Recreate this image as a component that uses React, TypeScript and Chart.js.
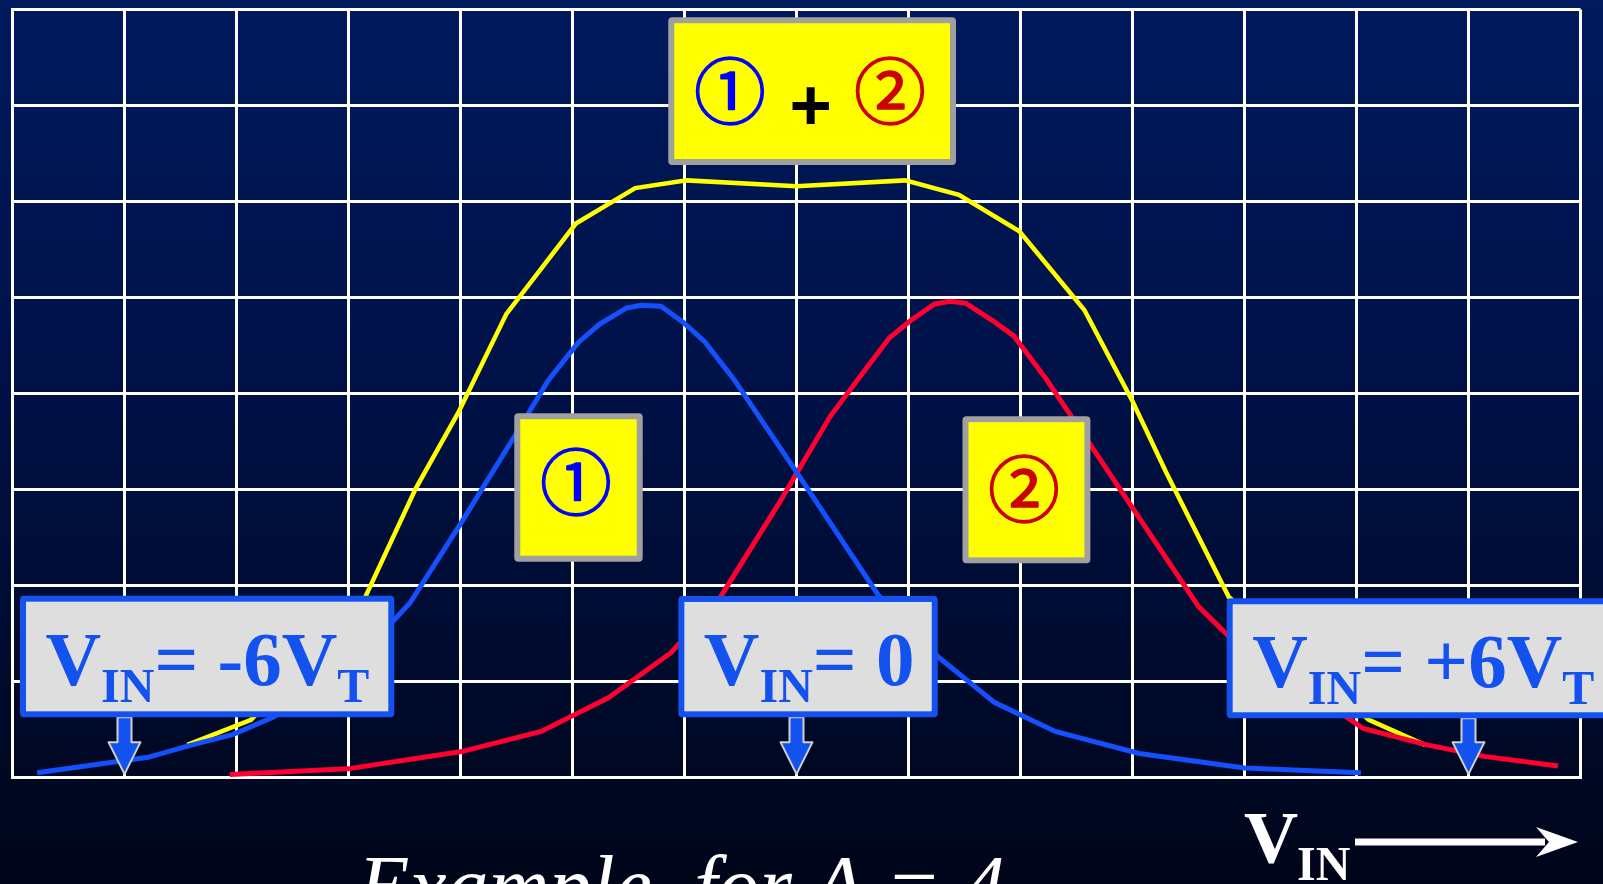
import React, { useEffect, useRef } from "react";
import { Chart, registerables } from "chart.js";

Chart.register(...registerables);

const W = 1603;
const H = 884;

// x axis: V_IN in units of V_T (grid: one column per V_T); y axis: relative gm (grid units)
const xMin = -7;
const xMax = 7;
const yMin = 0;
const yMax = 8;

// curve (1): transconductance of first pair
const gm1X = [-6.78, -5.79, -5.43, -5.03, -4.67, -4.1, -3.6, -3.45, -2.99, -2.52, -2.22, -1.95, -1.76, -1.52, -1.39, -1.21, -1.01, -0.82, -0.56, 0, 0.73, 1.26, 1.77, 2.31, 3.06, 4.0, 5.04];
const gm1Y = [0.05, 0.21, 0.33, 0.45, 0.63, 1.1, 1.63, 1.82, 2.66, 3.55, 4.13, 4.53, 4.72, 4.89, 4.92, 4.91, 4.74, 4.54, 4.15, 3.18, 1.9, 1.26, 0.78, 0.48, 0.25, 0.1, 0.05];

// curve (2): transconductance of second pair
const gm2X = [-5.06, -4.01, -2.99, -2.28, -1.68, -1.12, -0.69, -0.16, 0.3, 0.59, 0.83, 1.02, 1.23, 1.37, 1.51, 1.75, 1.94, 2.23, 2.61, 2.93, 3.59, 3.86, 5.06, 5.63, 6.14, 6.8];
const gm2Y = [0.03, 0.09, 0.27, 0.48, 0.83, 1.3, 1.86, 2.85, 3.76, 4.21, 4.58, 4.76, 4.93, 4.96, 4.94, 4.76, 4.6, 4.15, 3.49, 2.93, 1.78, 1.47, 0.51, 0.34, 0.22, 0.12];

// sum (1) + (2)
const sumX = [-5.44, -4.87, -3.85, -3.4, -3.02, -2.59, -1.97, -1.44, -0.98, 0, 0.97, 1.45, 1.99, 2.57, 3.0, 3.3, 3.86, 5.11, 5.61];
const sumY = [0.34, 0.6, 1.88, 3.01, 3.8, 4.83, 5.77, 6.14, 6.22, 6.16, 6.22, 6.07, 5.69, 4.87, 3.92, 3.18, 1.88, 0.6, 0.34];

// V_IN markers (in V_T) and their label texts
const markerVin = [-6, 0, 6];
const markerText = ["= -6V", "= 0", "= +6V"];
const markerSub = ["T", "", "T"];

const BLUE_TXT = "#1452F0";

type Pt = { x: number; y: number };

function fitGlyph(
  ctx: CanvasRenderingContext2D,
  text: string,
  family: string,
  weight: string,
  targetH: number,
  cx: number,
  cy: number,
  color: string,
  strokeW = 0
) {
  ctx.font = `${weight} 100px ${family}`;
  let m = ctx.measureText(text);
  const h = m.actualBoundingBoxAscent + m.actualBoundingBoxDescent;
  const size = (100 * (targetH - strokeW)) / h;
  ctx.font = `${weight} ${size}px ${family}`;
  m = ctx.measureText(text);
  const x = cx - (m.actualBoundingBoxRight - m.actualBoundingBoxLeft) / 2;
  const y = cy - (m.actualBoundingBoxDescent - m.actualBoundingBoxAscent) / 2;
  ctx.fillStyle = color;
  ctx.textAlign = "left";
  ctx.textBaseline = "alphabetic";
  ctx.fillText(text, x, y);
  if (strokeW > 0) {
    ctx.strokeStyle = color;
    ctx.lineWidth = strokeW;
    ctx.lineJoin = "round";
    ctx.strokeText(text, x, y);
  }
}

const bgPlugin = {
  id: "bgGradient",
  beforeDraw(chart: any) {
    const { ctx, width, height } = chart;
    const g = ctx.createLinearGradient(0, 0, 0, height);
    g.addColorStop(0, "#001A5E");
    g.addColorStop(0.45, "#001146");
    g.addColorStop(1, "#000519");
    ctx.save();
    ctx.fillStyle = g;
    ctx.fillRect(0, 0, width, height);
    ctx.restore();
  },
};

const annotationPlugin = {
  id: "annotations",
  afterDraw(chart: any) {
    const { ctx } = chart;
    const xs = chart.scales.x;
    const ys = chart.scales.y;
    const px = (v: number) => xs.getPixelForValue(v);
    const py = (v: number) => ys.getPixelForValue(v);
    ctx.save();

    // yellow boxes
    const yellowBox = (x0: number, x1: number, y0: number, y1: number) => {
      const l = px(x0), r = px(x1), t = py(y1), b = py(y0);
      ctx.fillStyle = "#A0A0A0";
      ctx.beginPath();
      ctx.roundRect(l, t, r - l, b - t, 4);
      ctx.fill();
      ctx.fillStyle = "#FFFF00";
      ctx.fillRect(l + 6, t + 6, r - l - 12, b - t - 12);
    };
    const cjk = '"Noto Sans CJK JP"';
    const gw = "normal";
    const sw = 1.4;
    yellowBox(-1.145, 1.424, 6.38, 7.92);
    fitGlyph(ctx, "①", cjk, gw, 69, px(-0.594), py(7.151), "#0000FF", sw);
    fitGlyph(ctx, "+", '"Liberation Sans"', "900", 37, px(0.129), py(6.995), "#000000");
    fitGlyph(ctx, "②", cjk, gw, 69, px(0.835), py(7.151), "#CC0000", sw);

    yellowBox(-2.52, -1.373, 2.248, 3.794);
    fitGlyph(ctx, "①", cjk, gw, 69, px(-1.969), py(3.081), "#0000FF", sw);

    yellowBox(1.482, 2.624, 2.231, 3.764);
    fitGlyph(ctx, "②", cjk, gw, 69, px(2.031), py(3.001), "#CC0000", sw);

    // V_IN boxes with arrows
    const vinBoxes = [
      [-6.933, -3.591, 0.627, 1.894],
      [-1.055, 1.261, 0.627, 1.891],
      [3.841, 7.3, 0.617, 1.867],
    ];
    markerVin.forEach((v, i) => {
      const [x0, x1, y0, y1] = vinBoxes[i];
      const l = px(x0), r = px(x1), t = py(y1), b = py(y0);
      // arrow
      const cx = px(v);
      const tip = py(0.035);
      ctx.beginPath();
      ctx.moveTo(cx - 7, b);
      ctx.lineTo(cx + 7, b);
      ctx.lineTo(cx + 7, tip - 32);
      ctx.lineTo(cx + 16, tip - 32);
      ctx.lineTo(cx, tip);
      ctx.lineTo(cx - 16, tip - 32);
      ctx.lineTo(cx - 7, tip - 32);
      ctx.closePath();
      ctx.fillStyle = BLUE_TXT;
      ctx.fill();
      ctx.strokeStyle = "#D0D0D0";
      ctx.lineWidth = 2;
      ctx.stroke();
      // box
      ctx.fillStyle = BLUE_TXT;
      ctx.beginPath();
      ctx.roundRect(l, t, r - l, b - t, 4);
      ctx.fill();
      ctx.fillStyle = "#DEDEDE";
      ctx.fillRect(l + 6, t + 6, r - l - 12, b - t - 12);
      // text
      let tx = l + 25.5;
      const base = t + 89;
      ctx.fillStyle = BLUE_TXT;
      ctx.textAlign = "left";
      ctx.textBaseline = "alphabetic";
      const big = 'bold 77px "Liberation Serif"';
      const small = 'bold 48px "Liberation Serif"';
      ctx.font = big;
      ctx.fillText("V", tx, base);
      tx += ctx.measureText("V").width;
      ctx.font = small;
      ctx.fillText("IN", tx, base + 17);
      tx += ctx.measureText("IN").width;
      ctx.font = big;
      ctx.fillText(markerText[i], tx, base);
      tx += ctx.measureText(markerText[i]).width;
      if (markerSub[i]) {
        ctx.font = small;
        ctx.fillText(markerSub[i], tx, base + 17);
      }
    });

    // bottom caption
    ctx.fillStyle = "#FFFFFF";
    ctx.font = 'italic 84px "Liberation Serif"';
    ctx.fillText("Example, for A = 4", 358, 914);

    // V_IN axis arrow
    ctx.font = 'bold 75px "Liberation Serif"';
    ctx.fillText("V", 1244, 863);
    ctx.font = 'bold 48px "Liberation Serif"';
    ctx.fillText("IN", 1297, 880);
    ctx.fillRect(1355, 838.5, 190, 7);
    ctx.beginPath();
    ctx.moveTo(1536, 827);
    ctx.lineTo(1578, 842);
    ctx.lineTo(1536, 857);
    ctx.lineTo(1549, 842);
    ctx.closePath();
    ctx.fill();

    ctx.restore();
  },
};

export default function App() {
  const ref = useRef<HTMLCanvasElement>(null);
  useEffect(() => {
    const canvas = ref.current!;
    const toPts = (xs: number[], ys: number[]): Pt[] => xs.map((x, i) => ({ x, y: ys[i] }));
    const gridOpts = { color: "#FFFFFF", lineWidth: 3, drawTicks: false };
    const borderOpts = { color: "#FFFFFF", width: 3 };
    const chart = new Chart(canvas, {
      type: "line",
      data: {
        datasets: [
          { label: "①", data: toPts(gm1X, gm1Y), borderColor: "#1550FF", borderWidth: 5, pointRadius: 0, tension: 0, fill: false },
          { label: "②", data: toPts(gm2X, gm2Y), borderColor: "#FF0030", borderWidth: 5, pointRadius: 0, tension: 0, fill: false },
          { label: "① + ②", data: toPts(sumX, sumY), borderColor: "#FFFF00", borderWidth: 4.5, pointRadius: 0, tension: 0, fill: false },
        ],
      },
      options: {
        responsive: false,
        animation: false,
        devicePixelRatio: 1,
        events: [],
        layout: { padding: { left: 12.5, top: 9.5, right: 22.5, bottom: 106.5 } },
        plugins: { legend: { display: false }, tooltip: { enabled: false }, title: { display: false } },
        scales: {
          x: {
            type: "linear",
            min: xMin,
            max: xMax,
            ticks: { display: false, stepSize: 1 },
            grid: gridOpts,
            border: borderOpts,
          },
          y: {
            type: "linear",
            min: yMin,
            max: yMax,
            ticks: { display: false, stepSize: 1 },
            grid: gridOpts,
            border: borderOpts,
          },
        },
      } as any,
      plugins: [bgPlugin, annotationPlugin],
    });
    return () => chart.destroy();
  }, []);
  return (
    <div style={{ position: "fixed", left: 0, top: 0, width: W, height: H, overflow: "hidden" }}>
      <canvas ref={ref} width={W} height={H} style={{ width: W, height: H, display: "block" }} />
    </div>
  );
}
